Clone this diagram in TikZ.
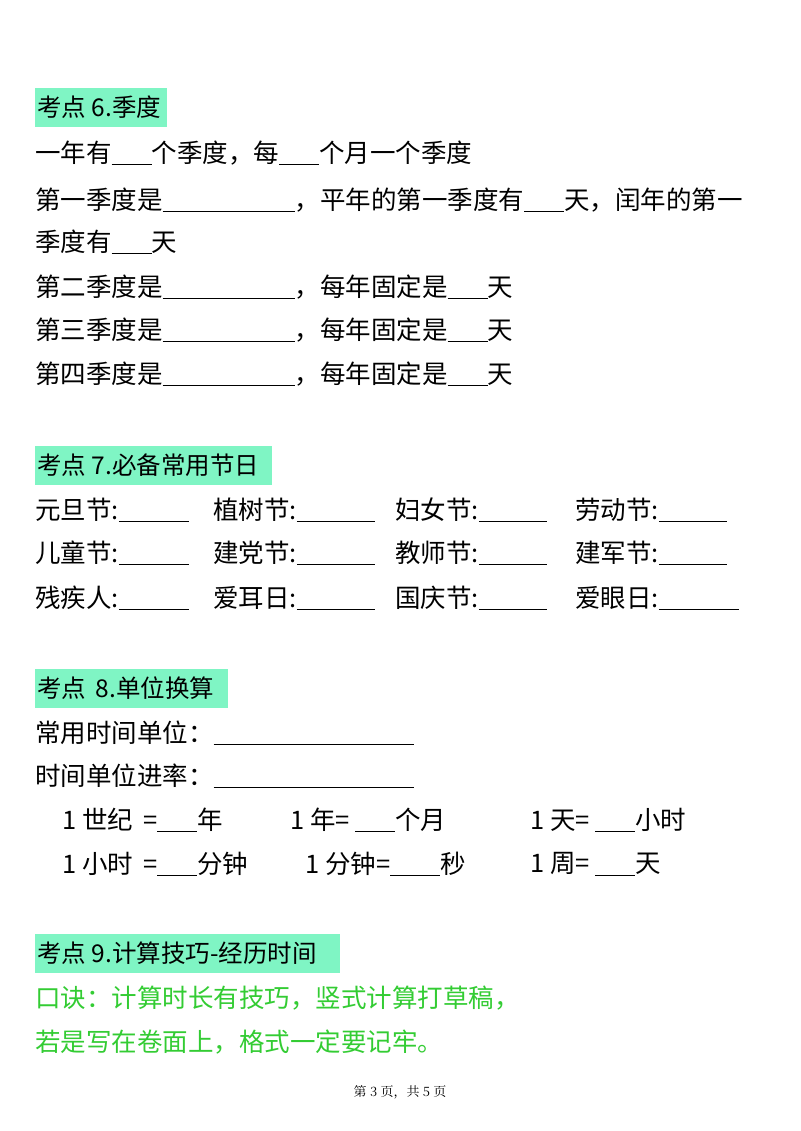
\documentclass[tikz,border=0pt]{standalone}
\usepackage{fontspec}
\setmainfont{Noto Sans CJK SC}
\definecolor{mint}{HTML}{7FF5C4}
\definecolor{tgreen}{HTML}{33CC33}
\newcommand{\blank}[1]{\rule[-3pt]{#1pt}{0.9pt}}
\begin{document}
\begin{tikzpicture}[x=1pt,y=-1pt,
  txt/.style={anchor=west,inner sep=0pt,font=\fontsize{25.5}{28}\selectfont},
  head/.style={anchor=west,inner sep=0pt,font=\fontsize{24.5}{28}\selectfont},
  hl/.style={fill=mint,draw=none}]
\useasboundingbox (0,0) rectangle (800,1131);
\fill[white] (0,0) rectangle (800,1131);
% Section 6
\fill[hl] (35,88) rectangle (167,127);
\node[head] (h6) at (37,107) {考点 6.季度};
\node[txt] (a1) at (35,153) {一年有\blank{40}个季度，每\blank{40}个月一个季度};
\node[txt] (a2) at (35,200) {第一季度是\blank{132}，平年的第一季度有\blank{40}天，闰年的第一};
\node[txt] (a3) at (35,242) {季度有\blank{40}天};
\node[txt] (a4) at (35,287) {第二季度是\blank{132}，每年固定是\blank{40}天};
\node[txt] (a5) at (35,330) {第三季度是\blank{132}，每年固定是\blank{40}天};
\node[txt] (a6) at (35,374) {第四季度是\blank{132}，每年固定是\blank{40}天};
% Section 7
\fill[hl] (35,446) rectangle (272,485);
\node[head] (h7) at (37,465) {考点 7.必备常用节日};
\node[txt] (b11) at (35,510) {元旦节:\blank{70}};
\node[txt] (b12) at (213,510) {植树节:\blank{78}};
\node[txt] (b13) at (395,510) {妇女节:\blank{68}};
\node[txt] (b14) at (575,510) {劳动节:\blank{68}};
\node[txt] (b21) at (35,553) {儿童节:\blank{70}};
\node[txt] (b22) at (213,553) {建党节:\blank{78}};
\node[txt] (b23) at (395,553) {教师节:\blank{68}};
\node[txt] (b24) at (575,553) {建军节:\blank{68}};
\node[txt] (b31) at (35,598) {残疾人:\blank{70}};
\node[txt] (b32) at (213,598) {爱耳日:\blank{78}};
\node[txt] (b33) at (395,598) {国庆节:\blank{68}};
\node[txt] (b34) at (575,598) {爱眼日:\blank{80}};
% Section 8
\fill[hl] (35,669) rectangle (228,708);
\node[head] (h8) at (37,688) {考点 \,8.单位换算};
\node[txt] (c1) at (35,733) {常用时间单位：\blank{200}};
\node[txt] (c2) at (35,776) {时间单位进率：\blank{200}};
\node[txt] (c31) at (62,820) {1 世纪 \,=\blank{40}年};
\node[txt] (c32) at (290,820) {1 年= \blank{40}个月};
\node[txt] (c33) at (530,820) {1 天= \blank{40}小时};
\node[txt] (c41) at (62,864) {1 小时 \,=\blank{40}分钟};
\node[txt] (c42) at (305,864) {1 分钟=\blank{50}秒};
\node[txt] (c43) at (530,864) {1 周= \blank{40}天};
% Section 9
\fill[hl] (35,934) rectangle (340,973);
\node[head] (h9) at (37,953) {考点 9.计算技巧-经历时间};
\node[txt,text=tgreen] (d1) at (35,998) {口诀：计算时长有技巧，竖式计算打草稿，};
\node[txt,text=tgreen] (d2) at (35,1042) {若是写在卷面上，格式一定要记牢。};
% footer
\node[inner sep=0pt,font=\fontsize{13}{15}\selectfont\setmainfont{Noto Serif CJK SC}] (ft) at (400,1092) {第 3 页，共 5 页};
\end{tikzpicture}
\end{document}
